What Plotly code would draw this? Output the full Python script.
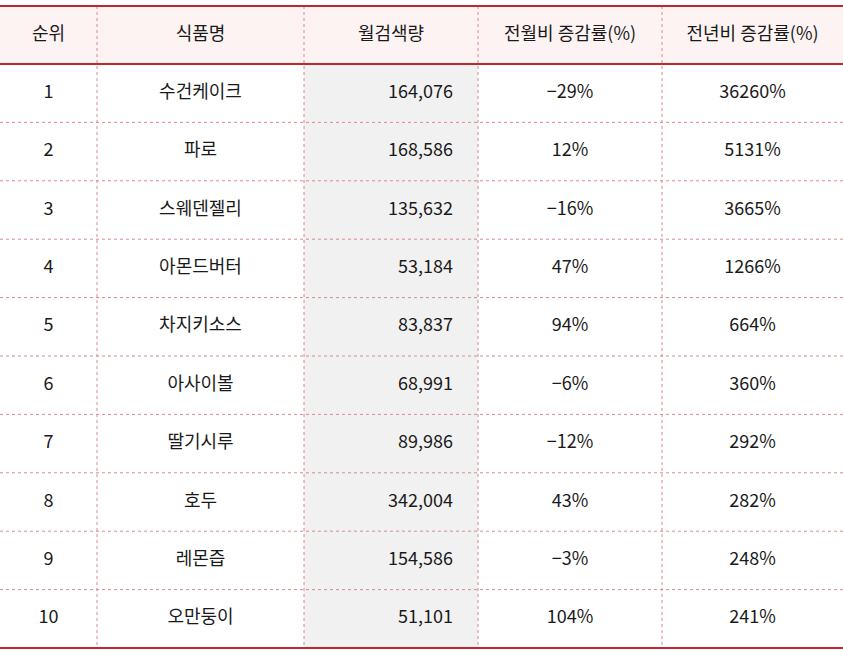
import plotly.graph_objects as go

headers = ["순위", "식품명", "월검색량", "전월비 증감률(%)", "전년비 증감률(%)"]
ranks = ["1", "2", "3", "4", "5", "6", "7", "8", "9", "10"]
foods = ["수건케이크", "파로", "스웨덴젤리", "아몬드버터", "차지키소스", "아사이볼", "딸기시루", "호두", "레몬즙", "오만둥이"]
searches = [164076, 168586, 135632, 53184, 83837, 68991, 89986, 342004, 154586, 51101]
mom = ["-29%", "12%", "-16%", "47%", "94%", "-6%", "-12%", "43%", "-3%", "104%"]
yoy = ["36260%", "5131%", "3665%", "1266%", "664%", "360%", "292%", "282%", "248%", "241%"]

W, H = 843, 655
cols = [0, 97, 304, 478, 662, 843]
top, hb, bot = 6, 64, 648
n = len(ranks)
rh = (bot - hb) / n
red = "#c0282d"
dot = "#d98a8d"
font = dict(family="Noto Sans CJK KR, Noto Sans, sans-serif", size=18, color="#1a1a1a")

shapes = [
    dict(type="rect", x0=0, x1=W, y0=top, y1=hb, fillcolor="#fdf3f3", line_width=0, layer="below"),
    dict(type="rect", x0=cols[2], x1=cols[3], y0=hb, y1=bot, fillcolor="#f1f1f1", line_width=0, layer="below"),
]
for i in range(1, n):
    y = hb + rh * i
    shapes.append(dict(type="line", x0=0, x1=W, y0=y, y1=y, line=dict(color=dot, width=1, dash="dot")))
for x in cols[1:-1]:
    shapes.append(dict(type="line", x0=x, x1=x, y0=top, y1=bot, line=dict(color=dot, width=1, dash="dot")))
for y in (top, hb, bot):
    shapes.append(dict(type="line", x0=0, x1=W, y0=y, y1=y, line=dict(color=red, width=2)))

fig = go.Figure()
centers = [(cols[i] + cols[i + 1]) / 2 for i in range(5)]
ys = [hb + rh * (i + 0.5) for i in range(n)]
fig.add_trace(go.Scatter(x=centers, y=[(top + hb) / 2] * 5, text=headers, mode="text",
                         textfont=font, textposition="middle center", hoverinfo="skip"))
for cx, vals in [(centers[0], ranks), (centers[1], foods), (centers[3], mom), (centers[4], yoy)]:
    fig.add_trace(go.Scatter(x=[cx] * n, y=ys, text=[v.replace("-", "−") for v in vals], mode="text",
                             textfont=font, textposition="middle center", hoverinfo="skip"))
fig.add_trace(go.Scatter(x=[453] * n, y=ys, text=[f"{v:,}" for v in searches], mode="text",
                         textfont=font, textposition="middle left", hoverinfo="skip"))

fig.update_layout(width=W, height=H, margin=dict(l=0, r=0, t=0, b=0), showlegend=False,
                  plot_bgcolor="white", paper_bgcolor="white", shapes=shapes,
                  xaxis=dict(range=[0, W], visible=False, fixedrange=True),
                  yaxis=dict(range=[H, 0], visible=False, fixedrange=True))
fig.write_html("out.html", config={"displayModeBar": False})

with open("out.html", encoding="utf-8") as f:
    html = f.read()
html = html.replace("<head>", "<head><style>html,body{margin:0;padding:0;overflow:hidden}</style>", 1)
with open("out.html", "w", encoding="utf-8") as f:
    f.write(html)
